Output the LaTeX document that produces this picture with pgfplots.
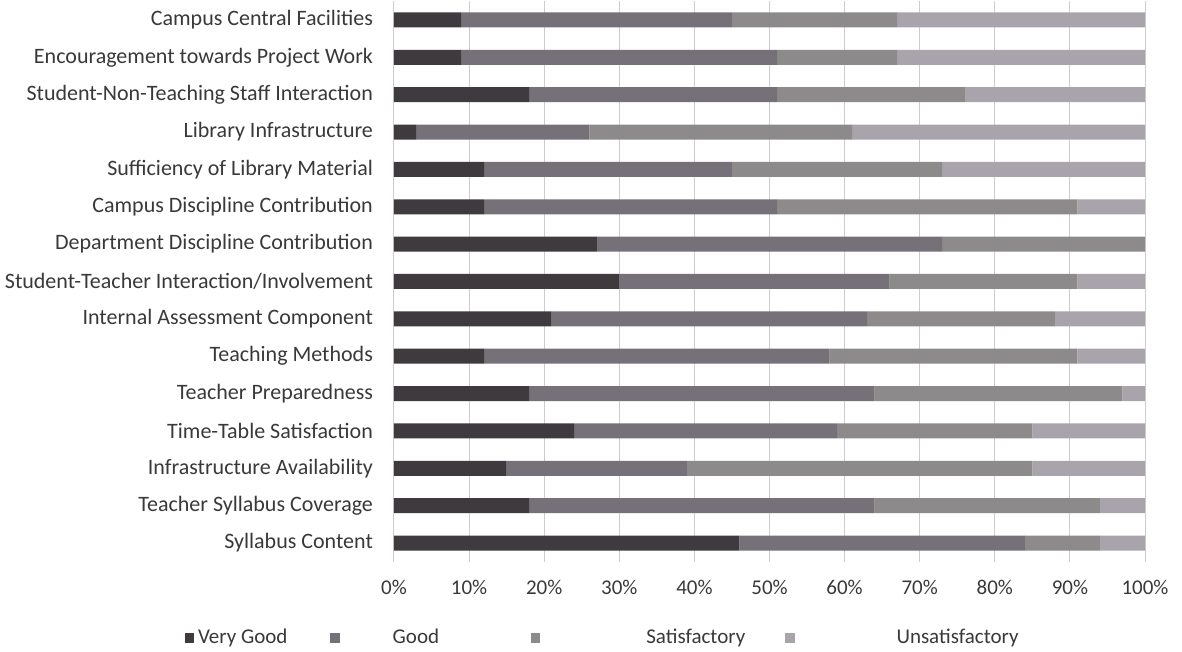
\documentclass[border=0pt]{standalone}
\usepackage{pgfplots}
\pgfplotsset{compat=1.18}
\usepackage{pgfplotstable}
\usepackage{fontspec}
\setmainfont{Carlito}

\definecolor{vgood}{HTML}{3E3A3D}
\definecolor{good}{HTML}{767178}
\definecolor{satis}{HTML}{8C8A8B}
\definecolor{unsat}{HTML}{A9A4AB}
\definecolor{gridgray}{HTML}{CFCBD0}
\definecolor{labelgray}{HTML}{3A3838}

\pgfplotsset{sqleg/.style={legend image code/.code={\fill[##1] (0pt,-2.3pt) rectangle (4.6pt,2.3pt);}}}

% percentages per item, idx 0 = bottom row
\pgfplotstableread{
idx vg good sat unsat
0  46 38 10 6
1  18 46 30 6
2  15 24 46 15
3  24 35 26 15
4  18 46 33 3
5  12 46 33 9
6  21 42 25 12
7  30 36 25 9
8  27 46 27 0
9  12 39 40 9
10 12 33 28 27
11 3  23 35 39
12 18 33 25 24
13 9  42 16 33
14 9  36 22 33
}\survey

\begin{document}
\begin{tikzpicture}
\path[use as bounding box] (-197pt,-45.15pt) rectangle (394pt,280.85pt);
\begin{axis}[
  at={(0pt,0pt)}, anchor=south west,
  width=375.5pt, height=280.2pt, scale only axis,
  xbar stacked, bar width=7.5pt,
  xmin=0, xmax=100, ymin=-0.5, ymax=14.5,
  xtick={0,10,...,100},
  xticklabel={\pgfmathprintnumber{\tick}\%},
  ytick={0,...,14},
  yticklabels={Syllabus Content, Teacher Syllabus Coverage, Infrastructure Availability,
    Time-Table Satisfaction, Teacher Preparedness, Teaching Methods,
    Internal Assessment Component, Student-Teacher Interaction/Involvement,
    Department Discipline Contribution, Campus Discipline Contribution,
    Sufficiency of Library Material, Library Infrastructure,
    Student-Non-Teaching Staff Interaction, Encouragement towards Project Work,
    Campus Central Facilities},
  major tick length=0pt,
  axis line style={draw=none},
  xmajorgrids, grid style={gridgray, line width=0.5pt},
  tick label style={text=labelgray},
  yticklabel style={font=\fontsize{11}{13}\selectfont, xshift=-7pt},
  xticklabel style={font=\fontsize{10.5}{12}\selectfont, yshift=-5.5pt},
  /pgf/number format/assume math mode=true,
  legend columns=4,
  legend style={draw=none, fill=none, inner sep=0pt,
    at={(axis description cs:-0.279,-0.136)}, anchor=west,
    font=\fontsize{10.5}{12}\selectfont, text=labelgray},
]
\addplot[fill=vgood, draw=none, sqleg] table[x=vg, y=idx] {\survey};
\addplot[fill=good, draw=none, sqleg] table[x=good, y=idx] {\survey};
\addplot[fill=satis, draw=none, sqleg] table[x=sat, y=idx] {\survey};
\addplot[fill=unsat, draw=none, sqleg] table[x=unsat, y=idx] {\survey};
\addlegendentry{Very Good\hspace{19.5pt}\mbox{}}
\addlegendentry{\hspace{24.5pt}Good\hspace{44pt}\mbox{}}
\addlegendentry{\hspace{51pt}Satisfactory\hspace{18pt}\mbox{}}
\addlegendentry{\hspace{49pt}Unsatisfactory}
\end{axis}
\end{tikzpicture}
\end{document}
